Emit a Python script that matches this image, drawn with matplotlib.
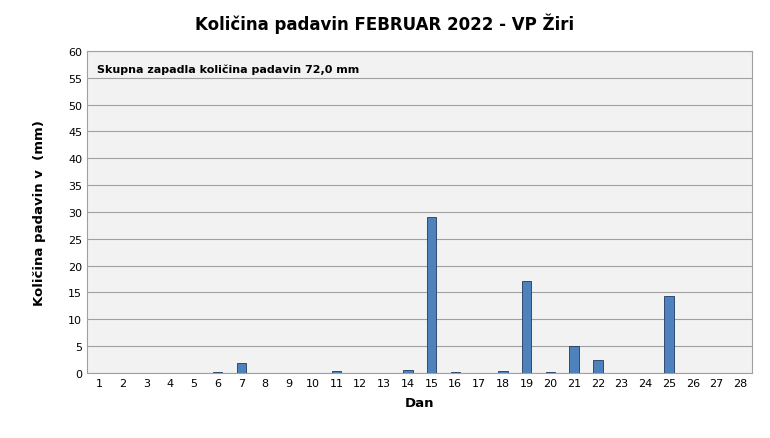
import numpy as np
import matplotlib.pyplot as plt

days = list(range(1, 29))
rain = [0, 0, 0, 0, 0, 0.2, 1.9, 0, 0, 0, 0.3, 0, 0, 0.6, 29.0, 0.2, 0, 0.4,
        17.2, 0.2, 5.1, 2.5, 0, 0, 14.4, 0, 0, 0]
total_text = "Skupna zapadla količina padavin 72,0 mm"

fig = plt.figure(figsize=(7.7, 4.39), dpi=100)
ax = fig.add_axes([0.113, 0.148, 0.864, 0.734])
ax.set_facecolor("#f2f2f2")

ax.bar(days, rain, width=0.4, color="#4f81bd", edgecolor="#1f3a60", linewidth=0.6, zorder=3)

ax.set_xlim(0.5, 28.5)
ax.set_ylim(0, 60)
ax.set_yticks(np.arange(0, 61, 5))
ax.set_xticks(days)
ax.tick_params(axis="both", labelsize=8, length=0)
ax.grid(axis="y", color="#a0a0a0", linewidth=0.8, zorder=0)
for s in ax.spines.values():
    s.set_color("#a0a0a0")

ax.set_xlabel("Dan", fontsize=9.5, fontweight="bold", labelpad=6)
ax.set_ylabel("Količina padavin v  (mm)", fontsize=9.5, fontweight="bold", labelpad=16)
ax.text(0.015, 0.96, total_text, transform=ax.transAxes, fontsize=8,
        fontweight="bold", va="top")
fig.suptitle("Količina padavin FEBRUAR 2022 - VP Žiri", fontsize=12, fontweight="bold", y=0.97)

fig.savefig("out.png", dpi=100)
